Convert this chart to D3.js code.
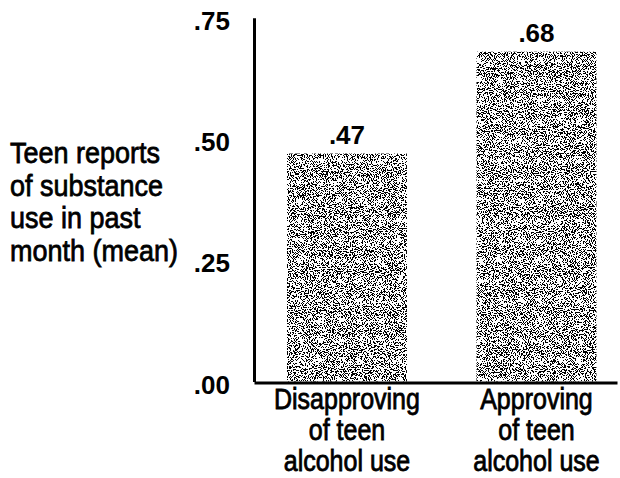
<!DOCTYPE html>
<html>
<head>
<meta charset="utf-8">
<script src="https://cdn.jsdelivr.net/npm/d3@7"></script>
<style>
  html, body { margin: 0; padding: 0; background: #fff; }
  svg { display: block; }
  text { font-family: "Liberation Sans", Arial, Helvetica, sans-serif; fill: #000; }
</style>
</head>
<body>
<svg id="chart" width="620" height="478"></svg>
<script>
// ---- data ----
const categories = ["Disapproving of teen alcohol use", "Approving of teen alcohol use"];
const categoryLines = [["Disapproving", "of teen", "alcohol use"], ["Approving", "of teen", "alcohol use"]];
const values = [0.47, 0.68];
const valueLabels = [".47", ".68"];
const tickValues = [0, 0.25, 0.5, 0.75];
const tickLabels = [".00", ".25", ".50", ".75"];
const axisTitleLines = ["Teen reports", "of substance", "use in past", "month (mean)"];

// ---- layout ----
const svg = d3.select("#chart");

const defs = svg.append("defs");
const f = defs.append("filter").attr("id", "grain")
  .attr("x", 0).attr("y", 0).attr("width", 1).attr("height", 1)
  .attr("color-interpolation-filters", "sRGB");
f.append("feTurbulence").attr("type", "fractalNoise").attr("baseFrequency", 0.95)
  .attr("numOctaves", 2).attr("seed", 7).attr("result", "noise");
f.append("feColorMatrix").attr("in", "noise").attr("type", "matrix")
  .attr("values", "0 0 0 0 0  0 0 0 0 0  0 0 0 0 0  1 0 0 0 -0.04").attr("result", "a");
const ct = f.append("feComponentTransfer").attr("in", "a").attr("result", "t");
ct.append("feFuncA").attr("type", "discrete").attr("tableValues", "0 1");
f.append("feFlood").attr("flood-color", "#ffffff").attr("result", "w");
f.append("feComposite").attr("in", "t").attr("in2", "w").attr("operator", "over").attr("result", "m");
f.append("feComposite").attr("in", "m").attr("in2", "SourceGraphic").attr("operator", "in");

const axisX = 254, axisRight = 617;
const y = d3.scaleLinear().domain([0, 0.75]).range([381.5, 17.75]);
const x = d3.scaleBand().domain(categories).range([axisX, axisRight])
  .paddingInner(0.367).paddingOuter(0.1413).align(0.616);

// bars
svg.append("g").selectAll("rect").data(values).join("rect")
  .attr("x", (d, i) => x(categories[i]))
  .attr("width", x.bandwidth())
  .attr("y", d => y(d))
  .attr("height", d => y(0) - y(d))
  .attr("fill", "#888")
  .attr("filter", "url(#grain)");

// value labels
svg.append("g").selectAll("text").data(values).join("text")
  .attr("x", (d, i) => x(categories[i]) + x.bandwidth() / 2)
  .attr("y", d => y(d) - 10)
  .attr("text-anchor", "middle")
  .attr("font-size", 26).attr("font-weight", "bold")
  .text((d, i) => valueLabels[i]);

// y axis
const yAxis = d3.axisLeft(y).tickValues(tickValues).tickSize(0).tickPadding(24)
  .tickFormat((d, i) => tickLabels[i]);
const gy = svg.append("g").attr("transform", `translate(${axisX},0)`).call(yAxis);
gy.select(".domain").attr("stroke", "#000").attr("stroke-width", 3);
gy.selectAll(".tick text").attr("font-size", 26).attr("font-weight", "bold")
  .attr("font-family", '"Liberation Sans", Arial, sans-serif').attr("fill", "#000").attr("dy", "0.45em");

// x axis
const xAxis = d3.axisBottom(x).tickSize(0).tickFormat("");
const gx = svg.append("g").attr("transform", `translate(0,${y(0) + 1})`).call(xAxis);
gx.select(".domain").attr("stroke", "#000").attr("stroke-width", 3);

// x category labels
const lineH = 31;
categoryLines.forEach((lines, i) => {
  const cx = x(categories[i]) + x.bandwidth() / 2;
  lines.forEach((ln, j) => {
    svg.append("text")
      .attr("transform", `translate(${cx},${409 + j * lineH}) scale(1,1.15)`)
      .attr("text-anchor", "middle")
      .attr("font-size", 25)
      .attr("stroke", "#000").attr("stroke-width", 0.7)
      .text(ln);
  });
});

// axis title
axisTitleLines.forEach((ln, j) => {
  svg.append("text")
    .attr("transform", `translate(10,${163 + j * 32.5}) scale(1,1.12)`)
    .attr("font-size", 27)
    .attr("stroke", "#000").attr("stroke-width", 0.7)
    .text(ln);
});
</script>
</body>
</html>
